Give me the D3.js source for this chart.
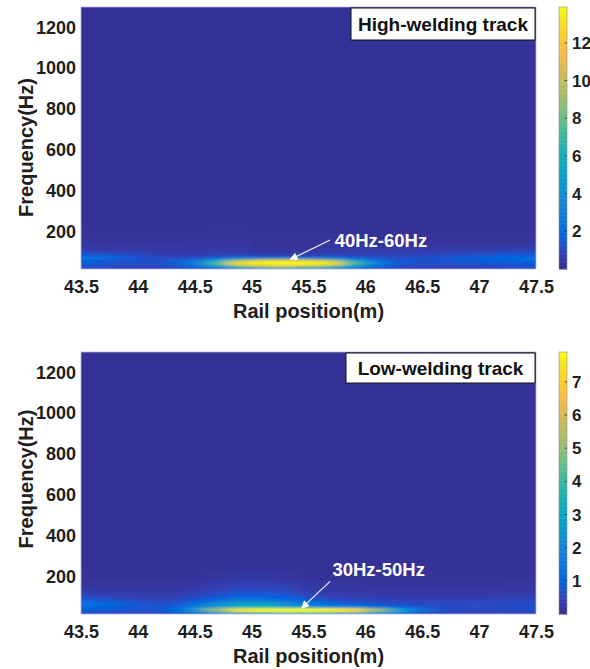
<!DOCTYPE html>
<html>
<head>
<meta charset="utf-8">
<script src="https://cdn.jsdelivr.net/npm/d3@7/dist/d3.min.js"></script>
<style>
  html, body { margin: 0; padding: 0; background: #fff; }
  text { font-family: "Liberation Sans", Arial, Helvetica, sans-serif; font-weight: bold; }
</style>
</head>
<body>
<svg id="chart" width="590" height="669"></svg>
<script>
// ---------------- DATA ----------------
const positions = [43.5, 43.7, 43.9, 44.1, 44.3, 44.5, 44.7, 44.9, 45.1, 45.3, 45.5,
                   45.7, 45.9, 46.1, 46.3, 46.5, 46.7, 46.9, 47.1, 47.3, 47.5];
// frequency band edges (Hz); value rows below go from the lowest band upward
const freqEdges = [15, 25, 35, 45, 55, 65, 75, 88, 103, 120, 145, 180, 230, 1300];

const highValues = [
  [1.1,1.0,0.85,0.8,0.9,1.3,2.4,4.5,5.5,6.0,5.5,4.5,2.4,1.3,0.95,0.85,0.85,0.85,0.9,1.0,1.1],
  [1.3,1.2,1.0,0.95,1.2,2.2,4.5,8.5,10.5,11.0,10.0,8.5,4.5,2.1,1.2,1.0,1.0,1.0,1.1,1.2,1.3],
  [1.5,1.3,1.1,1.0,1.5,3.0,7.0,12.6,13.5,13.8,13.6,12.8,7.0,3.0,1.4,1.1,1.1,1.2,1.3,1.4,1.5],
  [1.7,1.4,1.2,1.1,1.5,3.2,7.2,12.8,13.7,13.9,13.7,13.0,7.2,3.2,1.5,1.2,1.3,1.4,1.5,1.6,1.8],
  [2.0,1.7,1.4,1.2,1.3,2.4,4.5,8.5,10.0,10.5,10.0,8.5,4.5,2.1,1.4,1.3,1.4,1.5,1.7,1.9,2.1],
  [3.0,2.4,1.8,1.3,1.1,1.3,2.1,3.2,3.6,3.6,3.4,3.0,1.9,1.3,1.2,1.3,1.5,1.7,1.9,2.1,2.4],
  [1.9,1.6,1.2,0.95,0.85,0.85,1.0,1.2,1.0,0.85,1.0,1.2,1.0,0.95,0.95,1.0,1.1,1.3,1.5,1.7,1.9],
  [1.1,0.95,0.8,0.7,0.6,0.6,0.7,0.7,0.55,0.45,0.55,0.7,0.7,0.7,0.7,0.75,0.85,0.95,1.05,1.15,1.25],
  [0.7,0.6,0.55,0.5,0.45,0.45,0.5,0.5,0.4,0.35,0.4,0.5,0.55,0.55,0.55,0.55,0.6,0.65,0.7,0.75,0.8],
  [0.45,0.42,0.38,0.36,0.36,0.36,0.4,0.4,0.33,0.3,0.33,0.4,0.42,0.42,0.38,0.38,0.42,0.42,0.45,0.46,0.5],
  [0.34,0.33,0.3,0.3,0.3,0.33,0.36,0.36,0.33,0.3,0.3,0.33,0.33,0.33,0.3,0.3,0.3,0.3,0.33,0.33,0.34],
  [0.3,0.3,0.3,0.3,0.3,0.3,0.32,0.32,0.3,0.28,0.28,0.3,0.3,0.3,0.3,0.3,0.3,0.3,0.3,0.3,0.3],
  [0.28,0.28,0.28,0.28,0.28,0.28,0.28,0.28,0.28,0.28,0.28,0.28,0.28,0.28,0.28,0.28,0.28,0.28,0.28,0.28,0.28]
];

const lowValues = [
  [0.75,0.65,0.55,0.55,0.65,1.2,2.0,2.8,3.2,3.4,3.4,3.2,2.8,2.0,1.3,0.75,0.55,0.5,0.5,0.55,0.55],
  [0.9,0.8,0.7,0.7,0.95,2.2,4.8,7.4,7.8,7.9,7.9,7.7,7.3,5.0,2.8,1.2,0.65,0.55,0.55,0.6,0.65],
  [1.0,0.9,0.8,0.75,1.0,2.6,5.4,7.7,7.9,7.9,7.9,7.8,7.5,5.2,3.0,1.3,0.7,0.6,0.6,0.65,0.7],
  [1.2,1.0,0.85,0.75,0.9,1.8,2.8,3.4,3.5,3.0,2.6,2.3,2.0,1.5,1.0,0.75,0.65,0.6,0.6,0.65,0.7],
  [1.4,1.1,0.9,0.75,0.8,1.4,2.4,3.2,3.2,2.5,1.9,1.5,1.2,0.9,0.75,0.65,0.6,0.6,0.6,0.65,0.7],
  [1.6,1.2,0.9,0.7,0.7,1.2,2.0,2.7,2.7,2.0,1.5,1.1,0.85,0.7,0.65,0.6,0.6,0.6,0.6,0.65,0.7],
  [1.2,0.9,0.7,0.6,0.6,0.9,1.4,1.8,1.8,1.4,1.0,0.75,0.6,0.55,0.5,0.5,0.5,0.5,0.55,0.55,0.6],
  [0.75,0.6,0.5,0.45,0.45,0.65,0.95,1.2,1.2,1.0,0.7,0.5,0.42,0.42,0.4,0.4,0.4,0.4,0.42,0.45,0.48],
  [0.48,0.42,0.38,0.33,0.33,0.45,0.7,0.9,0.9,0.75,0.5,0.38,0.32,0.3,0.28,0.28,0.28,0.28,0.3,0.32,0.34],
  [0.32,0.28,0.28,0.28,0.28,0.35,0.5,0.65,0.65,0.55,0.35,0.28,0.25,0.23,0.23,0.23,0.23,0.23,0.24,0.25,0.26],
  [0.21,0.21,0.21,0.21,0.21,0.25,0.35,0.45,0.45,0.38,0.26,0.22,0.2,0.19,0.19,0.19,0.19,0.19,0.19,0.2,0.2],
  [0.17,0.17,0.17,0.17,0.17,0.18,0.22,0.26,0.26,0.22,0.18,0.17,0.17,0.17,0.17,0.17,0.17,0.17,0.17,0.17,0.17],
  [0.16,0.16,0.16,0.16,0.16,0.16,0.16,0.16,0.16,0.16,0.16,0.16,0.16,0.16,0.16,0.16,0.16,0.16,0.16,0.16,0.16]
];

const xTicks = [43.5, 44, 44.5, 45, 45.5, 46, 46.5, 47, 47.5];
const yTicks = [200, 400, 600, 800, 1000, 1200];
const xDomain = [43.5, 47.5];
const yDomain = [15, 1300];
const highColorRange = [0, 13.9];
const lowColorRange = [0, 7.9];
const highColorTicks = [2, 4, 6, 8, 10, 12];
const lowColorTicks = [1, 2, 3, 4, 5, 6, 7];
const highLabel = "High-welding track";
const lowLabel = "Low-welding track";
// annotations in data units (m, Hz)
const highAnnotation = { text: "40Hz-60Hz", pos: [45.73, 123], from: [45.69, 157], to: [45.34, 62] };
const lowAnnotation  = { text: "30Hz-50Hz", pos: [45.71, 199], from: [45.69, 175], to: [45.44, 44] };

// ---------------- STYLE / LAYOUT ----------------
const parulaStops = [
  [53,42,135],[50,67,186],[3,99,225],[13,117,220],[20,133,212],[9,152,209],[6,167,198],
  [21,177,180],[56,185,158],[101,190,134],[146,191,115],[183,189,100],[217,186,86],
  [248,187,68],[252,206,46],[245,228,29],[249,251,14]
];
const stopPos = parulaStops.map((_, i) => i === parulaStops.length - 1 ? 1 : (i * 4) / 63);
const parula = d3.scaleLinear().domain(stopPos)
  .range(parulaStops.map(c => `rgb(${c[0]},${c[1]},${c[2]})`))
  .interpolate(d3.interpolateRgb).clamp(true);

const plotLeft = 81, plotRight = 536, plotH = 262;
const cbLeft = 559, cbRight = 567;
const textColor = "#1e1e1e";
const fontFam = '"Liberation Sans", Arial, sans-serif';

const svg = d3.select("#chart");
const defs = svg.append("defs");
const blur = defs.append("filter").attr("id", "smooth")
  .attr("x", "-10%").attr("y", "-10%").attr("width", "120%").attr("height", "120%");
blur.append("feGaussianBlur").attr("stdDeviation", "8 1.3");

defs.append("marker").attr("id", "arrowhead")
  .attr("viewBox", "0 0 10 10").attr("refX", 9).attr("refY", 5)
  .attr("markerUnits", "userSpaceOnUse").attr("markerWidth", 10).attr("markerHeight", 8)
  .attr("orient", "auto")
  .append("path").attr("d", "M0,0 L10,5 L0,10 Z").attr("fill", "#fff");

const panels = [
  { values: highValues, crange: highColorRange, cticks: highColorTicks, label: highLabel,
    ann: highAnnotation, top: 7, titleCY: 147.5, boxH: 32, boxW: 184 },
  { values: lowValues, crange: lowColorRange, cticks: lowColorTicks, label: lowLabel,
    ann: lowAnnotation, top: 352, titleCY: 479, boxH: 30, boxW: 189 }
];

panels.forEach((p, pi) => {
  const top = p.top, bottom = top + plotH;
  const x = d3.scaleLinear().domain(xDomain).range([plotLeft, plotRight]);
  const y = d3.scaleLinear().domain(yDomain).range([bottom, top]);
  const color = d3.scaleLinear().domain(p.crange).range([0, 1]);

  defs.append("clipPath").attr("id", "clip" + pi)
    .append("rect").attr("x", plotLeft).attr("y", top)
    .attr("width", plotRight - plotLeft).attr("height", plotH);

  const pad = 26;
  const xc = positions.map(v => x(v));
  const xEdges = xc.map((v, i) => i === 0 ? v - pad : (xc[i - 1] + v) / 2);
  xEdges.push(xc[xc.length - 1] + pad);

  const cells = [];
  p.values.forEach((row, r) => {
    let y0 = y(freqEdges[r]), y1 = y(freqEdges[r + 1]);
    if (r === 0) y0 += 8;
    if (r === p.values.length - 1) y1 -= 8;
    row.forEach((v, c) => cells.push({ x0: xEdges[c], x1: xEdges[c + 1], y0, y1, v }));
  });

  const heat = svg.append("g").attr("clip-path", `url(#clip${pi})`)
    .append("g").attr("filter", "url(#smooth)");
  heat.selectAll("rect").data(cells).join("rect")
    .attr("x", d => d.x0 - 0.3).attr("width", d => d.x1 - d.x0 + 0.6)
    .attr("y", d => d.y1 - 0.3).attr("height", d => d.y0 - d.y1 + 0.6)
    .attr("fill", d => parula(color(d.v)));

  svg.append("rect").attr("x", plotLeft).attr("y", top)
    .attr("width", plotRight - plotLeft).attr("height", plotH)
    .attr("fill", "none").attr("stroke", "#b4b4dc").attr("stroke-width", 0.8);

  const gx = svg.append("g").attr("transform", `translate(0,${bottom})`)
    .call(d3.axisBottom(x).tickValues(xTicks).tickSize(0).tickPadding(11).tickFormat(d => String(d)));
  gx.select(".domain").remove();
  gx.selectAll("text").attr("font-size", 18).attr("fill", textColor)
    .style("font-family", fontFam).style("font-weight", "bold");

  const gy = svg.append("g").attr("transform", `translate(${plotLeft},0)`)
    .call(d3.axisLeft(y).tickValues(yTicks).tickSize(0).tickPadding(5).tickFormat(d3.format("d")));
  gy.select(".domain").remove();
  gy.selectAll("text").attr("font-size", 18).attr("fill", textColor)
    .style("font-family", fontFam).style("font-weight", "bold");

  svg.append("text").attr("x", (plotLeft + plotRight) / 2).attr("y", bottom + 49)
    .attr("text-anchor", "middle").attr("font-size", 20).attr("fill", textColor)
    .text("Rail position(m)");
  svg.append("text").attr("transform", `translate(33,${p.titleCY}) rotate(-90)`)
    .attr("text-anchor", "middle").attr("font-size", 20).attr("fill", textColor)
    .text("Frequency(Hz)");

  const bx = plotRight - 1 - p.boxW, by = top + 1;
  svg.append("rect").attr("x", bx).attr("y", by).attr("width", p.boxW).attr("height", p.boxH)
    .attr("fill", "#fff").attr("stroke", "#111").attr("stroke-width", 1);
  svg.append("text").attr("x", bx + p.boxW / 2).attr("y", by + p.boxH / 2 + 7)
    .attr("text-anchor", "middle").attr("font-size", 19).attr("fill", "#111")
    .text(p.label);

  svg.append("line")
    .attr("x1", x(p.ann.from[0])).attr("y1", y(p.ann.from[1]))
    .attr("x2", x(p.ann.to[0])).attr("y2", y(p.ann.to[1]))
    .attr("stroke", "#f0f0f0").attr("stroke-width", 1.2)
    .attr("marker-end", "url(#arrowhead)");
  svg.append("text").attr("x", x(p.ann.pos[0])).attr("y", y(p.ann.pos[1]))
    .attr("font-size", 18.5).attr("fill", "#fff").text(p.ann.text);

  const cy = d3.scaleLinear().domain(p.crange).range([bottom, top]);
  const steps = d3.range(0, 200);
  const [c0, c1] = p.crange;
  svg.append("g").selectAll("rect").data(steps).join("rect")
    .attr("x", cbLeft).attr("width", cbRight - cbLeft)
    .attr("y", i => cy(c0 + (c1 - c0) * (i + 1) / 200))
    .attr("height", i => cy(c0 + (c1 - c0) * i / 200) - cy(c0 + (c1 - c0) * (i + 1) / 200) + 0.5)
    .attr("fill", i => parula((i + 0.5) / 200));
  svg.append("rect").attr("x", cbLeft).attr("y", top).attr("width", cbRight - cbLeft)
    .attr("height", plotH).attr("fill", "none").attr("stroke", "#8a8a9a").attr("stroke-width", 0.6);
  const ct = svg.append("g");
  p.cticks.forEach(t => {
    ct.append("line").attr("x1", cbRight - 2.5).attr("x2", cbRight)
      .attr("y1", cy(t)).attr("y2", cy(t)).attr("stroke", "#333").attr("stroke-width", 0.8);
    ct.append("text").attr("x", 572).attr("y", cy(t)).attr("dy", "0.36em")
      .attr("font-size", 17).attr("fill", textColor).text(t);
  });
});
</script>
</body>
</html>
